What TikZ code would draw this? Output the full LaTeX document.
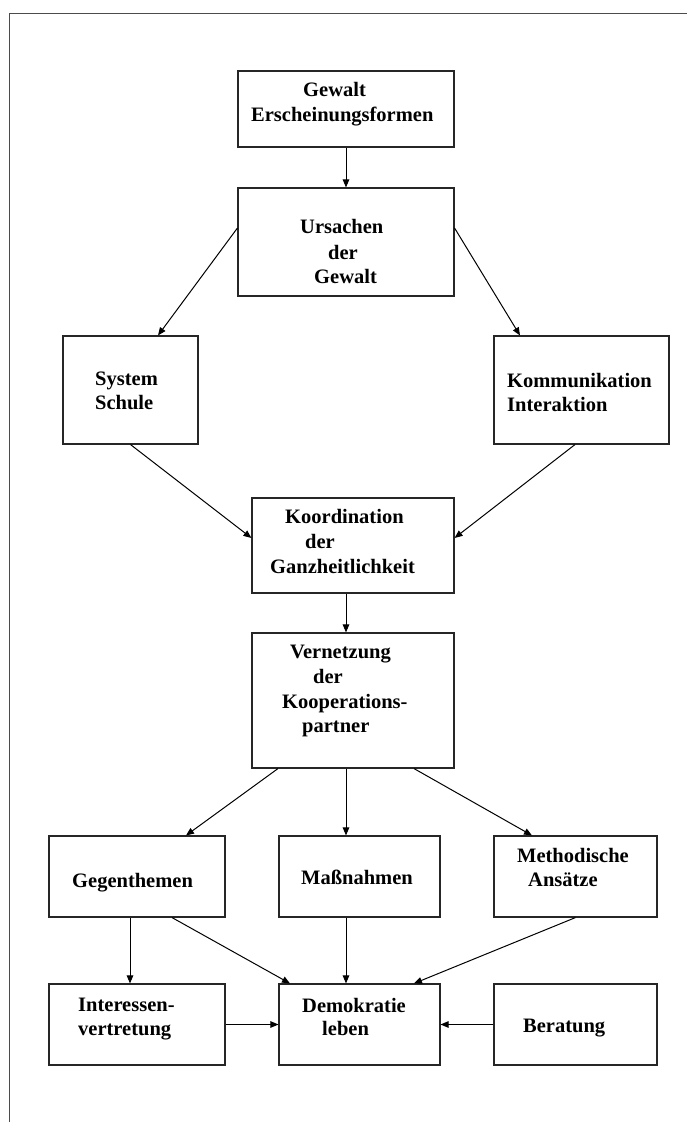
\documentclass[tikz,border=0pt]{standalone}
\usepackage{fontspec}
\setmainfont{Liberation Serif}
\usetikzlibrary{arrows.meta}
\begin{document}
\begin{tikzpicture}[x=1pt,y=-1pt,
  box/.style={draw=black!85, line width=1.1pt, rectangle, inner sep=0pt},
  lbl/.style={anchor=base west, inner sep=0pt, font=\fontsize{20.5}{25}\selectfont\bfseries},
  conn/.style={draw=black, line width=1pt, -{Triangle[length=8pt,width=6.5pt]}},
  frame/.style={draw=black!70, line width=1pt}]
\useasboundingbox (0,0) rectangle (687,1122);
\fill[white] (0,0) rectangle (687,1122);
\draw[frame] (9,1122) -- (9,13) -- (687,13);
% boxes
\node[box, minimum width=216pt, minimum height=76pt]  (b1)  at (346,109) {};
\node[box, minimum width=216pt, minimum height=108pt] (b2)  at (346,242) {};
\node[box, minimum width=135pt, minimum height=108pt] (b3)  at (130.5,390) {};
\node[box, minimum width=175pt, minimum height=108pt] (b4)  at (581.5,390) {};
\node[box, minimum width=202pt, minimum height=95pt]  (b5)  at (353,545.5) {};
\node[box, minimum width=202pt, minimum height=135pt] (b6)  at (353,700.5) {};
\node[box, minimum width=176pt, minimum height=81pt]  (b7)  at (137,876.5) {};
\node[box, minimum width=161pt, minimum height=81pt]  (b8)  at (359.5,876.5) {};
\node[box, minimum width=163pt, minimum height=81pt]  (b9)  at (575.5,876.5) {};
\node[box, minimum width=176pt, minimum height=81pt]  (b10) at (137,1024.5) {};
\node[box, minimum width=161pt, minimum height=81pt]  (b11) at (359.5,1024.5) {};
\node[box, minimum width=163pt, minimum height=81pt]  (b12) at (575.5,1024.5) {};
% texts
\node[lbl] (t1a) at (303,96) {Gewalt};
\node[lbl] (t1b) at (251,121) {Erscheinungsformen};
\node[lbl] (t2a) at (300,233) {Ursachen};
\node[lbl] (t2b) at (328,259) {der};
\node[lbl] (t2c) at (314,283) {Gewalt};
\node[lbl] (t3a) at (95,385) {System};
\node[lbl] (t3b) at (95,409) {Schule};
\node[lbl] (t4a) at (507,387) {Kommunikation};
\node[lbl] (t4b) at (507,411) {Interaktion};
\node[lbl] (t5a) at (285,523) {Koordination};
\node[lbl] (t5b) at (305,548) {der};
\node[lbl] (t5c) at (270,573) {Ganzheitlichkeit};
\node[lbl] (t6a) at (290,658) {Vernetzung};
\node[lbl] (t6b) at (313,683) {der};
\node[lbl] (t6c) at (282,708) {Kooperations-};
\node[lbl] (t6d) at (302,732) {partner};
\node[lbl] (t7)  at (72,887) {Gegenthemen};
\node[lbl] (t8)  at (301,884) {Maßnahmen};
\node[lbl] (t9a) at (517,862) {Methodische};
\node[lbl] (t9b) at (528,886) {Ansätze};
\node[lbl] (t10a) at (78,1011) {Interessen-};
\node[lbl] (t10b) at (78,1035) {vertretung};
\node[lbl] (t11a) at (302,1012) {Demokratie};
\node[lbl] (t11b) at (322,1035) {leben};
\node[lbl] (t12) at (523,1032) {Beratung};
% connectors
\draw[conn] (b1.south) -- (b2.north);
\draw[conn] ([yshift=14pt]b2.west) -- ([xshift=27.5pt]b3.north);
\draw[conn] ([yshift=14pt]b2.east) -- ([xshift=-61.5pt]b4.north);
\draw[conn] (b3.south) -- ([yshift=7.5pt]b5.west);
\draw[conn] ([xshift=-6.5pt]b4.south) -- ([yshift=7.5pt]b5.east);
\draw[conn] ([xshift=-7pt]b5.south) -- ([xshift=-7pt]b6.north);
\draw[conn] ([xshift=-75pt]b6.south) -- ([xshift=49pt]b7.north);
\draw[conn] ([xshift=-7pt]b6.south) -- ([xshift=-13.5pt]b8.north);
\draw[conn] ([xshift=61pt]b6.south) -- ([xshift=-43.5pt]b9.north);
\draw[conn] ([xshift=-7pt]b7.south) -- ([xshift=-7pt]b10.north);
\draw[conn] ([xshift=35pt]b7.south) -- ([xshift=-69.5pt]b11.north);
\draw[conn] ([xshift=-13.5pt]b8.south) -- ([xshift=-13.5pt]b11.north);
\draw[conn] (b9.south) -- ([xshift=54.5pt]b11.north);
\draw[conn] (b10.east) -- (b11.west);
\draw[conn] (b12.west) -- (b11.east);
\end{tikzpicture}
\end{document}
